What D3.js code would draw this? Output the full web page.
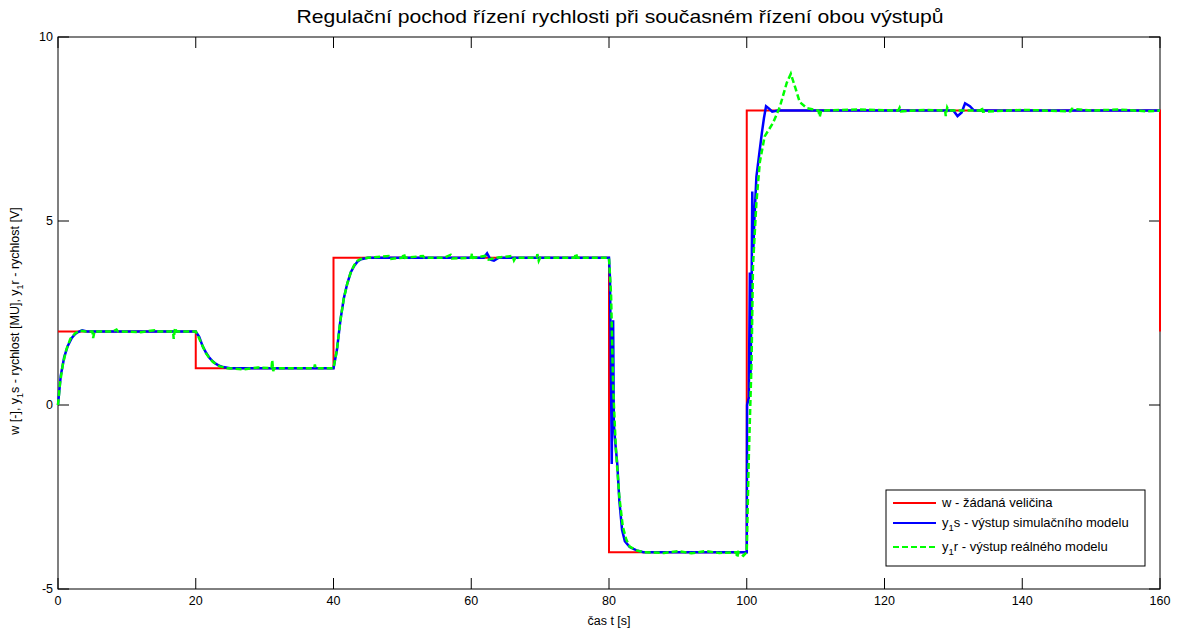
<!DOCTYPE html>
<html>
<head>
<meta charset="utf-8">
<script src="https://cdn.jsdelivr.net/npm/d3@7"></script>
<style>
  body { margin: 0; background: #fff; }
  text { font-family: "Liberation Sans", Arial, sans-serif; fill: #000; }
</style>
</head>
<body>
<div id="chart"></div>
<script>
// axis ticks
const xTicks = [0, 20, 40, 60, 80, 100, 120, 140, 160];
const yTicks = [-5, 0, 5, 10];

// w - žádaná veličina (setpoint), [t, value]
const wData = [[0, 2], [20, 2], [20, 1], [40, 1], [40, 4], [80, 4], [80, -4], [100, -4], [100, 8], [160, 8], [160, 2]];

// y1s - výstup simulačního modelu
const ysData = [
  [0, 0], [0.4, 0.8], [0.9, 1.3], [1.4, 1.6], [2, 1.82], [2.5, 1.93], [3, 1.99], [3.5, 2.03], [4.2, 2.0],
  [20, 2.0], [20.5, 1.85], [21, 1.6], [21.5, 1.42], [22, 1.28], [22.5, 1.18], [23, 1.11], [23.5, 1.06], [24, 1.03], [25, 1.0],
  [40, 1.0], [40.5, 1.5], [41, 2.3], [41.5, 2.9], [42, 3.3], [42.5, 3.6], [43, 3.78], [43.5, 3.9], [44, 3.96], [45, 4.0],
  [61.8, 4.0], [62.3, 4.12], [62.8, 3.95], [63.3, 3.92], [64, 4.0],
  [80, 4.0], [80.15, 3.4], [80.3, 0.5], [80.4, -1.6], [80.5, 1.5], [80.6, 2.3], [80.7, -0.5], [80.9, -1.0], [81.2, -1.6],
  [81.5, -2.6], [81.9, -3.4], [82.3, -3.7], [83, -3.86], [84, -3.95], [85, -4.0],
  [100, -4.0], [100.05, 0], [100.3, 0.2], [100.45, 3.6], [100.55, 0.8], [100.7, 3.0], [100.8, 5.8], [100.95, 4.2],
  [101.1, 5.0], [101.4, 6.2], [101.8, 6.8], [102.2, 7.4], [102.5, 7.8], [102.8, 8.12], [103.2, 8.06], [103.7, 7.97], [104.5, 8.0],
  [130, 8.0], [130.6, 7.85], [131.2, 7.95], [131.7, 8.2], [132.4, 8.12], [133, 8.0], [160, 8.0]
];

// y1r - výstup reálného modelu
const yrData = [
  [0, 0], [0.3, 0.6], [0.7, 1.1], [1.2, 1.5], [1.8, 1.8], [2.5, 1.95], [3.2, 2.02], [4, 2.0], [5, 2.0], [5.1, 1.82], [5.3, 2.0],
  [8, 2.0], [8.5, 2.05], [8.7, 2.0], [12, 1.98], [14, 2.03], [14.2, 2.0], [16.7, 2.0], [16.8, 1.8], [17, 2.1], [17.2, 2.0],
  [20, 2.0], [20.4, 1.85], [21, 1.6], [21.5, 1.4], [22, 1.27], [22.5, 1.17], [23, 1.1], [23.5, 1.05], [24.5, 1.0],
  [27, 0.97], [29, 1.02], [31, 1.0], [31.1, 1.22], [31.25, 0.92], [31.4, 1.0], [37.2, 1.0], [37.3, 1.1], [37.4, 1.0],
  [40, 1.0], [40.5, 1.5], [41, 2.3], [41.5, 2.9], [42, 3.3], [42.5, 3.6], [43, 3.8], [43.5, 3.92], [44, 3.97], [45, 4.0],
  [48, 4.05], [48.2, 3.97], [50, 4.0], [50.2, 4.12], [50.4, 4.0], [53, 4.05], [53.2, 4.0], [56, 4.0], [57, 4.08], [57.2, 3.98],
  [60, 4.0], [60.1, 4.12], [60.3, 4.0], [62, 4.05], [62.5, 3.95], [63.5, 4.0], [66, 4.05], [66.2, 3.93], [66.4, 4.0],
  [69.5, 4.0], [69.6, 4.1], [69.8, 3.92], [70, 4.0], [75, 4.0], [75.2, 4.12], [75.4, 4.0],
  [80, 4.0], [80.3, 3.0], [80.6, 0.5], [81, -1.2], [81.5, -2.5], [82, -3.3], [82.5, -3.65], [83, -3.85], [84, -3.95], [85, -4.0],
  [88, -4.02], [90, -3.97], [92, -4.03], [94, -3.97], [96, -4.02], [98.5, -4.0], [98.6, -4.15], [98.8, -4.0], [99.5, -4.1], [100, -4.0],
  [100.3, -1.4], [100.7, 1.2], [100.9, 3.75], [101.4, 5.5], [101.9, 6.6], [102.6, 7.3], [103.8, 7.66], [104.8, 8.1],
  [105.8, 8.75], [106.4, 9.0], [107, 8.65], [107.7, 8.23], [108.7, 8.07], [110.4, 8.0], [110.6, 7.83], [110.8, 8.0],
  [116, 8.03], [122, 8.0], [122.2, 8.08], [122.4, 7.98], [126, 8.02], [128.8, 8.0], [128.9, 7.85], [129.1, 8.08], [129.3, 8.0],
  [134, 8.0], [134.1, 8.1], [134.3, 7.97], [140, 8.02], [147, 7.98], [147.2, 8.05], [150, 8.0], [154, 8.03], [158, 7.98], [160, 8.0]
];

const legendLabels = [
  {color: '#ff0000', dash: null, parts: [['w - žádaná veličina', false]]},
  {color: '#0000ff', dash: null, parts: [['y', false], ['1', true], ['s - výstup simulačního modelu', false]]},
  {color: '#00ff00', dash: '6,3', parts: [['y', false], ['1', true], ['r - výstup reálného modelu', false]]}
];

const W = 1184, H = 633;
const margin = {top: 37, right: 24, bottom: 44, left: 58};
const width = W - margin.left - margin.right;
const height = H - margin.top - margin.bottom;

const svg = d3.select('#chart').append('svg')
  .attr('width', W)
  .attr('height', H);

const x = d3.scaleLinear().domain([0, 160]).range([0, width]);
const y = d3.scaleLinear().domain([-5, 10]).range([height, 0]);

const g = svg.append('g')
  .attr('transform', 'translate(' + margin.left + ',' + margin.top + ')');

// box
g.append('rect')
  .attr('width', width).attr('height', height)
  .attr('fill', 'none').attr('stroke', '#000').attr('stroke-width', 1);

const tickLen = 11;
// inward ticks on all four sides
g.selectAll('.xt').data(xTicks).enter().append('path')
  .attr('d', d => 'M' + x(d) + ',' + height + 'v' + (-tickLen) + 'M' + x(d) + ',0v' + tickLen)
  .attr('stroke', '#000');
g.selectAll('.yt').data(yTicks).enter().append('path')
  .attr('d', d => 'M0,' + y(d) + 'h' + tickLen + 'M' + width + ',' + y(d) + 'h' + (-tickLen))
  .attr('stroke', '#000');

g.selectAll('.xl').data(xTicks).enter().append('text')
  .attr('x', d => x(d)).attr('y', height + 16)
  .attr('text-anchor', 'middle').attr('font-size', 12.5)
  .text(d => d);
g.selectAll('.yl').data(yTicks).enter().append('text')
  .attr('x', -5).attr('y', d => y(d) + 4)
  .attr('text-anchor', 'end').attr('font-size', 12.5)
  .text(d => d);

const line = d3.line().x(d => x(d[0])).y(d => y(d[1]));

g.append('path').datum(wData)
  .attr('d', line).attr('fill', 'none')
  .attr('stroke', '#ff0000').attr('stroke-width', 2);
g.append('path').datum(ysData)
  .attr('d', line).attr('fill', 'none')
  .attr('stroke', '#0000ff').attr('stroke-width', 2.5);
g.append('path').datum(yrData)
  .attr('d', line).attr('fill', 'none')
  .attr('stroke', '#00ff00').attr('stroke-width', 2.5)
  .attr('stroke-dasharray', '6,3');

// title and axis labels
svg.append('text')
  .attr('x', 620).attr('y', 23)
  .attr('text-anchor', 'middle').attr('font-size', 19)
  .attr('textLength', 647).attr('lengthAdjust', 'spacingAndGlyphs')
  .text('Regulační pochod řízení rychlosti při současném řízení obou výstupů');

svg.append('text')
  .attr('x', margin.left + width / 2).attr('y', 625)
  .attr('text-anchor', 'middle').attr('font-size', 12.5)
  .text('čas t [s]');

const yLab = svg.append('text')
  .attr('transform', 'translate(19,321) rotate(-90)')
  .attr('text-anchor', 'middle').attr('font-size', 12.5);
[['w [-], y', false], ['1', true], ['s - rychlost [MU], y', false], ['1', true], ['r - rychlost [V]', false]]
  .forEach(p => {
    yLab.append('tspan').text(p[0])
      .attr('font-size', p[1] ? 9 : 12.5)
      .attr('dy', p[1] ? 4 : (p[0].startsWith('w') ? 0 : -4));
  });

// legend
const lg = svg.append('g').attr('transform', 'translate(886,490)');
lg.append('rect').attr('width', 259).attr('height', 76)
  .attr('fill', '#fff').attr('stroke', '#000').attr('stroke-width', 1);
const rowsY = [13, 33, 57];
legendLabels.forEach((d, i) => {
  lg.append('line')
    .attr('x1', 7).attr('x2', 50).attr('y1', rowsY[i]).attr('y2', rowsY[i])
    .attr('stroke', d.color).attr('stroke-width', 2)
    .attr('stroke-dasharray', d.dash);
  const t = lg.append('text').attr('x', 56).attr('y', rowsY[i] + 4).attr('font-size', 13);
  d.parts.forEach((p, j) => {
    t.append('tspan').text(p[0])
      .attr('font-size', p[1] ? 9.5 : 13)
      .attr('dy', p[1] ? 4 : (j === 0 ? 0 : -4));
  });
});
</script>
</body>
</html>
